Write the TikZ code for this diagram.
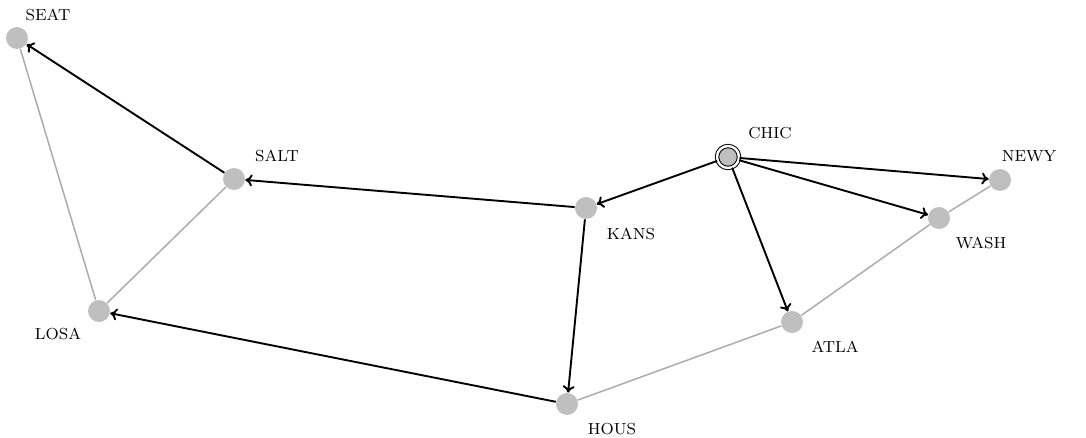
\documentclass[tikz,border=0pt]{standalone}
\usepackage{tikz}
\usetikzlibrary{positioning}
\usetikzlibrary{arrows.meta}
\usetikzlibrary{calc}

\begin{document}
\begin{tikzpicture}[x=0.5pt,y=-0.5pt]

\tikzstyle{city}=[circle, fill=gray!50, minimum size=11pt, inner sep=0pt]
\tikzstyle{source}=[circle, fill=gray!50, draw, line width=0.5pt, double=white, double distance=1.2pt, minimum size=11pt, inner sep=0pt]
\tikzstyle{lbl}=[font=\footnotesize, inner sep=1pt]
\tikzstyle{road}=[draw=gray!65, line width=0.75pt]
\tikzstyle{route}=[-{To[length=3.5pt,width=6pt]}, line width=0.95pt]

\useasboundingbox (0,0) rectangle (1086,438);

\node[city] (seat) at (17,38) {};
\node[city] (salt) at (234,179) {};
\node[city] (losa) at (99,311) {};
\node[city] (kans) at (586,208) {};
\node[city] (hous) at (567,404) {};
\node[source] (chic) at (728,157) {};
\node[city] (newy) at (1000,180) {};
\node[city] (wash) at (939,218) {};
\node[city] (atla) at (792,322) {};

% city names
\node[lbl] at ($(seat)+(31,-23)$) {SEAT};
\node[lbl] at ($(salt)+(43,-23)$) {SALT};
\node[lbl] at ($(losa)+(-41,23)$) {LOSA};
\node[lbl] at ($(kans)+(45,26)$) {KANS};
\node[lbl] at ($(hous)+(45,25)$) {HOUS};
\node[lbl] at ($(chic)+(42,-24)$) {CHIC};
\node[lbl] at ($(newy)+(29,-24)$) {NEWY};
\node[lbl] at ($(wash)+(42,25)$) {WASH};
\node[lbl] at ($(atla)+(43,25)$) {ATLA};

% unused roads
\draw[road] (seat) -- (losa);
\draw[road] (losa) -- (salt);
\draw[road] (hous) -- (atla);
\draw[road] (atla) -- (wash);
\draw[road] (wash) -- (newy);

% tree
\draw[route] (chic) -- (kans);
\draw[route] (chic) -- (atla);
\draw[route] (chic) -- (wash);
\draw[route] (chic) -- (newy);
\draw[route] (kans) -- (salt);
\draw[route] (kans) -- (hous);
\draw[route] (salt) -- (seat);
\draw[route] (hous) -- (losa);

\end{tikzpicture}
\end{document}
